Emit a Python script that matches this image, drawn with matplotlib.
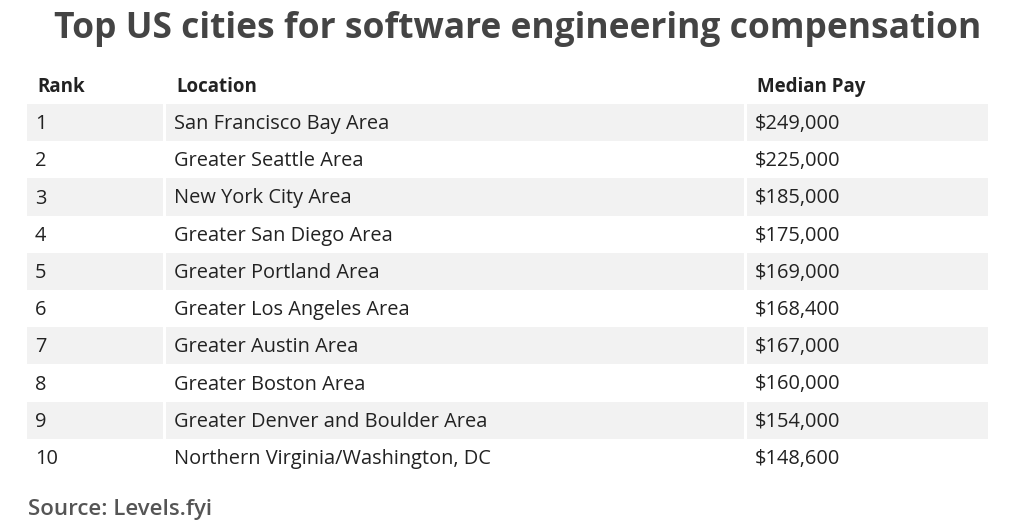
import matplotlib.pyplot as plt

title = 'Top US cities for software engineering compensation'
headers = ['Rank', 'Location', 'Median Pay']
ranks = ['1', '2', '3', '4', '5', '6', '7', '8', '9', '10']
locations = ['San Francisco Bay Area', 'Greater Seattle Area', 'New York City Area',
             'Greater San Diego Area', 'Greater Portland Area', 'Greater Los Angeles Area',
             'Greater Austin Area', 'Greater Boston Area', 'Greater Denver and Boulder Area',
             'Northern Virginia/Washington, DC']
pay = ['$249,000', '$225,000', '$185,000', '$175,000', '$169,000',
       '$168,400', '$167,000', '$160,000', '$154,000', '$148,600']
source = 'Source: Levels.fyi'

W, H = 1024, 530
fig = plt.figure(figsize=(W / 100, H / 100), dpi=100)
ax = fig.add_axes([0, 0, 1, 1])
ax.set_xlim(0, W)
ax.set_ylim(H, 0)
ax.axis('off')

# column spans (left, right) in pixels
cols = [(27, 163), (166, 744), (747, 988)]
text_pad = 10
row_top = 104
row_h = 37.2
fam = ['Open Sans', 'DejaVu Sans']
text_color = '#222222'

ax.text(518, 29, title, ha='center', va='center', fontsize=25.5, fontweight='bold',
        color='#444444', family=fam)

# header
for (l, r), h in zip(cols, headers):
    ax.text(l + text_pad, 87, h, ha='left', va='center', fontsize=13.5,
            fontweight='bold', color=text_color, family=fam)

# rows
for i in range(len(ranks)):
    yc = row_top + (i + 0.5) * row_h
    if i % 2 == 0:
        for l, r in cols:
            ax.barh(yc, r - l, left=l, height=row_h, color='#f2f2f2', linewidth=0)
    for (l, r), val in zip(cols, [ranks[i], locations[i], pay[i]]):
        ax.text(l + text_pad - 2, yc + 1.5, val, ha='left', va='center', fontsize=14.4,
                color=text_color, family=fam)

ax.text(28, 510, source, ha='left', va='center', fontsize=16, fontweight='semibold',
        color='#555555', family=fam)

fig.savefig('out.png', dpi=100)
